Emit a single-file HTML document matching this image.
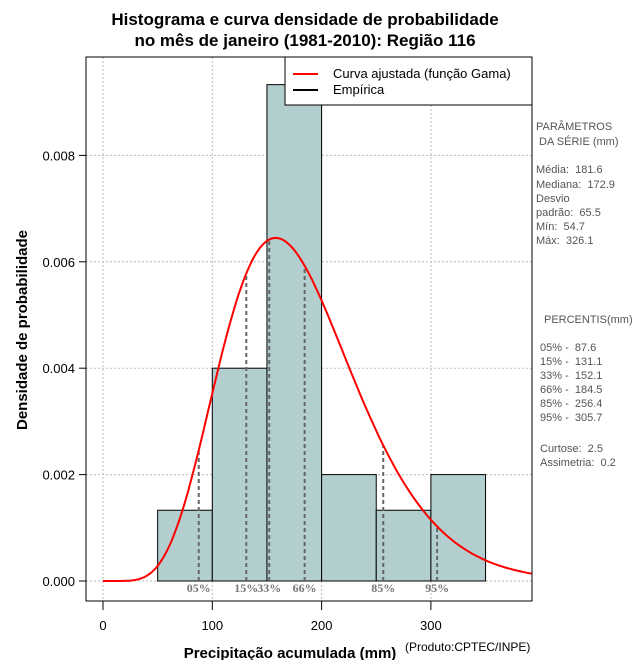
<!DOCTYPE html>
<html><head><meta charset="utf-8"><style>
body{margin:0;background:#fff;font-family:"Liberation Sans",sans-serif}
.pre text{white-space:pre}
</style></head><body>
<svg id="c" width="640" height="660" xmlns="http://www.w3.org/2000/svg" font-family="Liberation Sans, sans-serif">
<text x="305" y="25" text-anchor="middle" font-size="17" font-weight="bold">Histograma e curva densidade de probabilidade</text>
<text x="305" y="46" text-anchor="middle" font-size="17" font-weight="bold">no mês de janeiro (1981-2010): Região 116</text>
<g id="grid"></g>
<g id="bars"></g>
<g id="pct"></g>
<path id="curve" fill="none" stroke="#ff0000" stroke-width="2"/>
<rect x="86" y="57" width="446" height="544" fill="none" stroke="#000"/>
<g id="axes"></g>
<g>
<rect x="285" y="57" width="247" height="48" fill="#fff" stroke="#000"/>
<line x1="293" y1="74" x2="318" y2="74" stroke="#f00" stroke-width="2"/>
<text x="333" y="78" font-size="13">Curva ajustada (função Gama)</text>
<line x1="293" y1="90" x2="318" y2="90" stroke="#000" stroke-width="2"/>
<text x="333" y="94" font-size="13">Empírica</text>
</g>
<text transform="translate(27 330) rotate(-90)" font-size="15" font-weight="bold" text-anchor="middle">Densidade de probabilidade</text>
<text x="290" y="658" text-anchor="middle" font-size="15" font-weight="bold">Precipitação acumulada (mm)</text>
<text x="405" y="651" font-size="12">(Produto:CPTEC/INPE)</text>
<g class="pre" font-size="11" fill="#555">
<text x="536" y="130">PARÂMETROS</text><text x="536" y="145"> DA SÉRIE (mm)</text>
<text x="536" y="173">Média:  181.6</text><text x="536" y="188">Mediana:  172.9</text>
<text x="536" y="202">Desvio</text><text x="536" y="216">padrão:  65.5</text>
<text x="536" y="230">Mín:  54.7</text><text x="536" y="244">Máx:  326.1</text>
<text x="544" y="323">PERCENTIS(mm)</text>
<text x="540" y="351">05% -  87.6</text><text x="540" y="365">15% -  131.1</text>
<text x="540" y="379">33% -  152.1</text><text x="540" y="393">66% -  184.5</text>
<text x="540" y="407">85% -  256.4</text><text x="540" y="421">95% -  305.7</text>
<text x="540" y="452">Curtose:  2.5</text><text x="540" y="466">Assimetria:  0.2</text>
</g>
</svg>
<script>
const binEdges=[50,100,150,200,250,300,350];
const binDensity=[0.00133,0.004,0.00933,0.002,0.00133,0.002];
const pctLabels=["05%","15%","33%","66%","85%","95%"];
const pctValues=[87.6,131.1,152.1,184.5,256.4,305.7];
const xTicks=[0,100,200,300];
const yTicks=[0,0.002,0.004,0.006,0.008];
const yTickLabels=["0.000","0.002","0.004","0.006","0.008"];
const gammaMean=[181.6];
const gammaSd=[65.5];
const NS="http://www.w3.org/2000/svg";
const X=v=>103+v*1.093, Y=v=>581-v*53200;
function mk(t,a,p){const e=document.createElementNS(NS,t);for(const k in a)e.setAttribute(k,a[k]);p.appendChild(e);return e;}
function lg(z){const g=[676.5203681218851,-1259.1392167224028,771.32342877765313,-176.61502916214059,12.507343278686905,-0.13857109526572012,9.9843695780195716e-6,1.5056327351493116e-7];z-=1;let x=0.99999999999980993;for(let i=0;i<8;i++)x+=g[i]/(z+i+1);const t=z+7.5;return 0.5*Math.log(2*Math.PI)+(z+0.5)*Math.log(t)-t+Math.log(x);}
const k=(gammaMean[0]/gammaSd[0])**2, th=gammaSd[0]**2/gammaMean[0];
const pdf=x=>x<=0?0:Math.exp((k-1)*Math.log(x)-x/th-lg(k)-k*Math.log(th));
const grid=document.getElementById('grid'),bars=document.getElementById('bars'),pct=document.getElementById('pct'),axes=document.getElementById('axes');
xTicks.forEach(t=>{const l=mk('line',{x1:X(t),x2:X(t),y1:57,y2:601,stroke:'#bbb','stroke-dasharray':'2,2'},grid);
const m=mk('line',{x1:X(t),x2:X(t),y1:601,y2:610,stroke:'#000'},axes);
const s=mk('text',{x:X(t),y:630,'text-anchor':'middle','font-size':13},axes);s.textContent=t;});
yTicks.forEach((t,i)=>{const l=mk('line',{x1:86,x2:532,y1:Y(t),y2:Y(t),stroke:'#bbb','stroke-dasharray':'2,2'},grid);
const m=mk('line',{x1:79,x2:86,y1:Y(t),y2:Y(t),stroke:'#000'},axes);
const s=mk('text',{x:75,y:Y(t)+5,'text-anchor':'end','font-size':13},axes);s.textContent=yTickLabels[i];});
binDensity.forEach((d,i)=>{const r=mk('rect',{x:X(binEdges[i]),y:Y(d),width:X(binEdges[i+1])-X(binEdges[i]),height:Y(0)-Y(d),fill:'#b3cece',stroke:'#000','stroke-width':1},bars);});
const bl=mk('line',{x1:X(binEdges[0]),x2:X(binEdges[binEdges.length-1]),y1:Y(0),y2:Y(0),stroke:'#000','stroke-dasharray':'1,2'},bars);
pctValues.forEach((p,i)=>{const l=mk('line',{x1:X(p),x2:X(p),y1:Y(0),y2:Y(pdf(p)),stroke:'#666','stroke-width':2,'stroke-dasharray':'4,3'},pct);
const s=mk('text',{x:X(p),y:592,'text-anchor':'middle','font-size':12,'font-weight':'bold',fill:'#777','font-family':'Liberation Serif, serif'},pct);s.textContent=pctLabels[i];});
let d='';for(let x=0;x<=393;x+=2){d+=(x?'L':'M')+X(x).toFixed(1)+','+Y(pdf(x)).toFixed(1);}
document.getElementById('curve').setAttribute('d',d);
</script>
</body></html>
